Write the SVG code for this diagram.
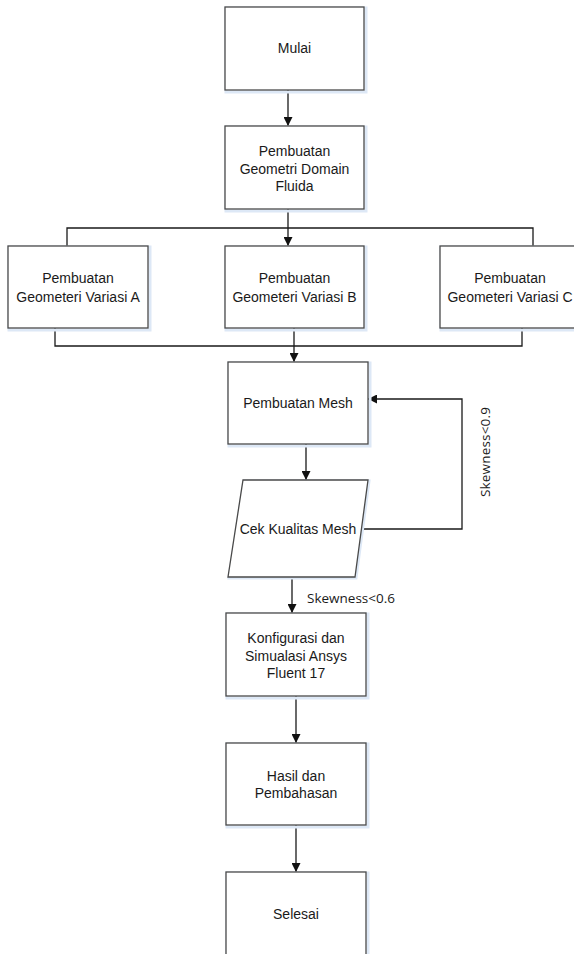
<svg xmlns="http://www.w3.org/2000/svg" width="574" height="954" viewBox="0 0 574 954">
<style>
.box{fill:#ffffff;stroke:#4a4a4a;stroke-width:1.3}
.sh{fill:none;stroke:#dde8f6;stroke-width:3}
.t{font-family:"Liberation Sans",Arial,sans-serif;font-size:14px;fill:#1a1a1a;text-anchor:middle}
.lbl{font-family:"Open Sans","DejaVu Sans",sans-serif;font-size:13.5px;fill:#1a1a1a}
.c{fill:none;stroke:#1a1a1a;stroke-width:1.3}
</style>
<defs>
<marker id="ah" viewBox="0 0 10 10" refX="10" refY="5" markerWidth="9" markerHeight="9" markerUnits="userSpaceOnUse" orient="auto">
<path d="M0,0 L10,5 L0,10 z" fill="#111"/>
</marker>
</defs>
<rect width="574" height="954" fill="#ffffff"/>
<g id="connectors">
<line class="c" x1="288" y1="90" x2="288" y2="126" marker-end="url(#ah)"/>
<line class="c" x1="288" y1="209" x2="288" y2="246" marker-end="url(#ah)"/>
<polyline class="c" points="67,246 67,228 533,228 533,246"/>
<polyline class="c" points="55,328 55,346 522,346 522,328"/>
<line class="c" x1="294" y1="328" x2="294" y2="362" marker-end="url(#ah)"/>
<line class="c" x1="306" y1="444" x2="306" y2="480" marker-end="url(#ah)"/>
<polyline class="c" points="362,529 462,529 462,399 368,399" marker-end="url(#ah)"/>
<line class="c" x1="292" y1="577" x2="292" y2="613" marker-end="url(#ah)"/>
<line class="c" x1="296" y1="696" x2="296" y2="743" marker-end="url(#ah)"/>
<line class="c" x1="296" y1="825" x2="296" y2="872" marker-end="url(#ah)"/>
<text class="lbl" transform="translate(490,452) rotate(-90)" text-anchor="middle" textLength="90">Skewness&lt;0.9</text>
<text class="lbl" x="307" y="603" textLength="88">Skewness&lt;0.6</text>
</g>
<g id="mulai">
<rect class="sh" x="226" y="8" width="140" height="84"/>
<rect class="box" x="225" y="7" width="139" height="83"/>
<text class="t" x="294.5" y="53">Mulai</text>
</g>
<g id="geometri-domain">
<rect class="sh" x="226" y="127" width="140" height="84"/>
<rect class="box" x="225" y="126" width="139" height="83"/>
<text class="t" x="294.5" y="156">Pembuatan</text>
<text class="t" x="294.5" y="173.5">Geometri Domain</text>
<text class="t" x="294.5" y="191">Fluida</text>
</g>
<g id="variasi-a">
<rect class="sh" x="9" y="247" width="141" height="83"/>
<rect class="box" x="8" y="246" width="140" height="82"/>
<text class="t" x="78" y="283">Pembuatan</text>
<text class="t" x="78" y="302">Geometeri Variasi A</text>
</g>
<g id="variasi-b">
<rect class="sh" x="226" y="247" width="140" height="83"/>
<rect class="box" x="225" y="246" width="139" height="82"/>
<text class="t" x="294.5" y="283">Pembuatan</text>
<text class="t" x="294.5" y="302">Geometeri Variasi B</text>
</g>
<g id="variasi-c">
<rect class="sh" x="441" y="247" width="141" height="83"/>
<rect class="box" x="440" y="246" width="140" height="82"/>
<text class="t" x="510" y="283">Pembuatan</text>
<text class="t" x="510" y="302">Geometeri Variasi C</text>
</g>
<g id="mesh">
<rect class="sh" x="229" y="363" width="141" height="83"/>
<rect class="box" x="228" y="362" width="140" height="82"/>
<text class="t" x="298" y="408">Pembuatan Mesh</text>
</g>
<g id="cek-kualitas">
<polygon class="sh" points="244,481 369,481 356,578 229,578"/>
<polygon class="box" points="243,480 368,480 355,577 228,577"/>
<text class="t" x="298" y="534">Cek Kualitas Mesh</text>
</g>
<g id="konfigurasi">
<rect class="sh" x="227" y="614" width="141" height="84"/>
<rect class="box" x="226" y="613" width="140" height="83"/>
<text class="t" x="296" y="643">Konfigurasi dan</text>
<text class="t" x="296" y="661">Simualasi Ansys</text>
<text class="t" x="296" y="678">Fluent 17</text>
</g>
<g id="hasil">
<rect class="sh" x="227" y="744" width="141" height="83"/>
<rect class="box" x="226" y="743" width="140" height="82"/>
<text class="t" x="296" y="781">Hasil dan</text>
<text class="t" x="296" y="798">Pembahasan</text>
</g>
<g id="selesai">
<rect class="sh" x="227" y="873" width="141" height="84"/>
<rect class="box" x="226" y="872" width="140" height="83"/>
<text class="t" x="296" y="919">Selesai</text>
</g>
</svg>
